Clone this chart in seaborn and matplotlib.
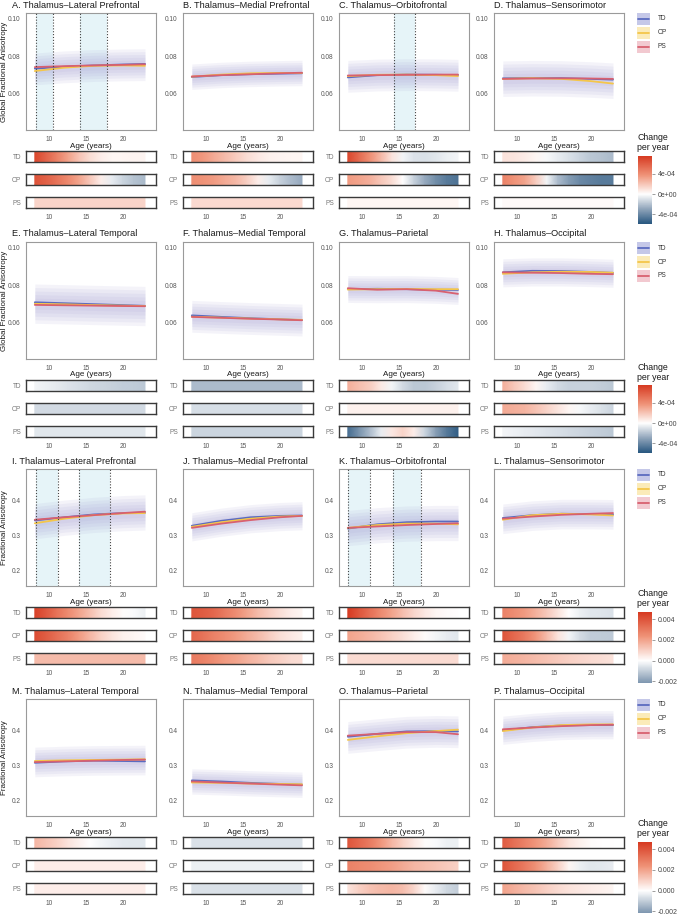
import numpy as np
import pandas as pd
import matplotlib
matplotlib.use('Agg')
import matplotlib.pyplot as plt
import seaborn as sns
from matplotlib.colors import LinearSegmentedColormap, Normalize
from matplotlib.patches import Rectangle

# --- data ---------------------------------------------------------------
REGIONS = ["Lateral Prefrontal", "Medial Prefrontal", "Orbitofrontal", "Sensorimotor",
           "Lateral Temporal", "Medial Temporal", "Parietal", "Occipital"]
LETTERS = list("ABCDEFGHIJKLMNOP")
GROUPS = ["TD", "OP", "PS"]

FIT_AGES = [8, 12, 16, 20, 23]
STRIP_AGES = [8, 9.5, 11, 12.5, 14, 15.5, 17, 18.5, 20, 21.5, 23]

# fitted trajectories [TD, OP, PS] at FIT_AGES
fit_A = [[.0735, .0745, .0752, .0757, .0760], [.0722, .0740, .0750, .0752, .0750], [.0743, .0748, .0752, .0755, .0758]]
fit_B = [[.0690, .0700, .0705, .0708, .0710], [.0692, .0703, .0710, .0712, .0712], [.0693, .0700, .0705, .0710, .0713]]
fit_C = [[.0688, .0700, .0703, .0702, .0700], [.0695, .0702, .0703, .0700, .0695], [.0698, .0700, .0702, .0703, .0703]]
fit_D = [[.0683, .0685, .0684, .0680, .0676], [.0680, .0684, .0680, .0668, .0655], [.0680, .0682, .0683, .0682, .0680]]
fit_E = [[.0710, .0705, .0700, .0695, .0691], [.0702, .0699, .0695, .0692, .0690], [.0696, .0694, .0692, .0690, .0689]]
fit_F = [[.0640, .0632, .0625, .0619, .0615], [.0633, .0628, .0623, .0619, .0616], [.0632, .0627, .0622, .0618, .0614]]
fit_G = [[.0780, .0782, .0780, .0777, .0776], [.0778, .0780, .0781, .0780, .0780], [.0785, .0777, .0780, .0772, .0755]]
fit_H = [[.0870, .0878, .0877, .0872, .0867], [.0862, .0870, .0873, .0872, .0868], [.0870, .0868, .0866, .0862, .0860]]
fit_I = [[.343, .352, .360, .364, .365], [.335, .348, .358, .363, .364], [.345, .352, .358, .364, .368]]
fit_J = [[.328, .342, .352, .356, .357], [.325, .338, .348, .354, .356], [.322, .334, .344, .352, .356]]
fit_K = [[.320, .332, .338, .340, .340], [.322, .330, .334, .334, .332], [.322, .326, .330, .333, .335]]
fit_L = [[.350, .358, .362, .361, .360], [.345, .358, .362, .360, .357], [.348, .354, .359, .362, .364]]
fit_M = [[.308, .312, .314, .313, .312], [.313, .315, .316, .317, .318], [.310, .312, .314, .316, .317]]
fit_N = [[.258, .255, .251, .248, .246], [.252, .251, .249, .248, .247], [.255, .252, .249, .246, .244]]
fit_O = [[.382, .390, .397, .398, .397], [.373, .383, .392, .398, .402], [.385, .390, .395, .395, .389]]
fit_P = [[.400, .409, .414, .415, .415], [.398, .408, .415, .417, .417], [.403, .408, .412, .415, .416]]

# approximate half-height of the point cloud per panel
cloud_gfa = [0.0085, 0.0068, 0.0085, 0.0095, 0.0105, 0.0085, 0.0072, 0.0075]
cloud_fa = [0.050, 0.040, 0.050, 0.042, 0.042, 0.036, 0.045, 0.040]

# change per year [TD, OP, PS] at STRIP_AGES (x1e-4 for rows 1-2, x1e-3 for rows 3-4)
strip_A = [[7.0, 5.8, 4.6, 3.3, 2.1, 1.2, 0.6, 0.3, 0.3, 0.4, 0.4],
           [6.5, 5.9, 5.1, 4.2, 3.2, 2.0, 0.6, -0.6, -1.4, -2.0, -2.3],
           [1.5] * 11]
strip_B = [[4.0, 3.6, 3.0, 2.4, 1.8, 1.2, 0.8, 0.5, 0.4, 0.3, 0.3],
           [4.0, 3.8, 3.5, 3.0, 2.5, 1.7, 0.6, -0.6, -1.5, -2.2, -2.8],
           [1.3] * 11]
strip_C = [[7.0, 5.5, 4.0, 2.5, 1.0, -0.3, -0.9, -1.0, -0.8, -0.5, -0.3],
           [3.5, 3.2, 2.8, 2.0, 1.2, 0.0, -1.5, -2.8, -3.8, -4.5, -4.8],
           [0.3] * 11]
strip_D = [[1.0, 0.9, 0.7, 0.3, -0.2, -0.6, -1.0, -1.4, -1.8, -2.0, -2.2],
           [4.5, 3.8, 3.2, 1.8, -0.3, -2.2, -3.3, -4.0, -4.3, -4.5, -4.5],
           [0.2] * 11]
strip_E = [[-0.3, -0.5, -0.7, -0.9, -1.1, -1.25, -1.4, -1.5, -1.6, -1.7, -1.8],
           [-1.2] * 11,
           [-0.8] * 11]
strip_F = [[-2.2] * 11, [-1.1] * 11, [-1.4] * 11]
strip_G = [[2.8, 2.3, 1.8, 0.8, -0.3, -1.2, -1.8, -1.8, -1.5, -1.1, -0.8],
           [0.5] * 11,
           [-5.0, -3.6, -2.2, -0.6, 0.8, 1.5, 0.6, -1.4, -3.2, -4.6, -5.6]]
strip_H = [[2.8, 2.0, 1.2, 0.3, -0.6, -1.2, -1.5, -1.5, -1.5, -1.6, -1.8],
           [3.0, 2.8, 2.6, 2.1, 1.5, 0.9, 0.3, -0.2, -0.6, -1.0, -1.4],
           [-0.3, -0.45, -0.6, -0.75, -0.9, -1.05, -1.2, -1.35, -1.5, -1.65, -1.8]]
strip_I = [[4.5, 3.9, 3.2, 2.6, 2.0, 1.4, 0.8, 0.4, 0.1, -0.1, -0.3],
           [4.2, 3.8, 3.3, 2.8, 2.2, 1.6, 1.0, 0.6, 0.3, 0.2, 0.1],
           [1.5] * 11]
strip_J = [[4.0, 3.8, 3.5, 3.0, 2.5, 2.0, 1.5, 1.1, 0.7, 0.4, 0.2],
           [3.5, 3.2, 2.8, 2.5, 2.2, 1.8, 1.5, 1.1, 0.7, 0.5, 0.3],
           [3.0, 2.8, 2.5, 2.2, 2.0, 1.7, 1.5, 1.2, 1.0, 0.8, 0.7]]
strip_K = [[4.8, 4.0, 3.3, 2.6, 2.0, 1.4, 0.9, 0.5, 0.2, 0.1, 0.0],
           [2.0, 1.8, 1.6, 1.3, 1.0, 0.7, 0.4, 0.1, -0.2, -0.4, -0.5],
           [0.8] * 11]
strip_L = [[2.8, 2.5, 2.2, 1.7, 1.2, 0.6, 0.0, -0.3, -0.5, -0.55, -0.6],
           [4.0, 3.5, 3.0, 2.3, 1.5, 0.6, -0.2, -0.7, -1.0, -1.05, -1.1],
           [1.8, 1.7, 1.6, 1.45, 1.3, 1.15, 1.0, 0.9, 0.8, 0.7, 0.6]]
strip_M = [[1.6, 1.3, 1.0, 0.6, 0.3, 0.0, -0.2, -0.35, -0.45, -0.5, -0.5],
           [0.4] * 11,
           [0.4] * 11]
strip_N = [[-0.6] * 11, [-0.3] * 11, [-0.6] * 11]
strip_O = [[4.0, 3.5, 3.0, 2.3, 1.6, 1.0, 0.5, 0.1, -0.1, -0.3, -0.3],
           [2.8, 2.65, 2.5, 2.3, 2.1, 1.85, 1.6, 1.45, 1.3, 1.15, 1.0],
           [0.6, 1.0, 1.3, 1.5, 1.6, 1.4, 0.9, 0.1, -0.4, -0.8, -1.0]]
strip_P = [[3.8, 3.3, 2.8, 2.3, 1.8, 1.2, 0.6, 0.3, 0.1, 0.0, 0.0],
           [4.0, 3.5, 3.0, 2.4, 1.7, 1.0, 0.2, -0.3, -0.5, -0.45, -0.4],
           [2.0, 1.75, 1.5, 1.25, 1.0, 0.8, 0.6, 0.5, 0.4, 0.3, 0.2]]

FITS = [fit_A, fit_B, fit_C, fit_D, fit_E, fit_F, fit_G, fit_H,
        fit_I, fit_J, fit_K, fit_L, fit_M, fit_N, fit_O, fit_P]
STRIPS = [strip_A, strip_B, strip_C, strip_D, strip_E, strip_F, strip_G, strip_H,
          strip_I, strip_J, strip_K, strip_L, strip_M, strip_N, strip_O, strip_P]

# significant age windows (shaded, dotted borders)
WINDOWS = {"A": [(8.1, 10.5), (14.2, 17.8)], "C": [(14.3, 17.1)],
           "I": [(8.1, 11.2), (14.0, 18.3)], "K": [(8.0, 11.0), (14.1, 17.9)]}

# --- styling ----------------------------------------------------------------
LINE_COLORS = {"TD": "#5b6bc0", "OP": "#f4c64a", "PS": "#d8606f"}
KEY_FILLS = {"TD": "#c5c8e8", "OP": "#fbebb9", "PS": "#f2c9d0"}
CMAP = LinearSegmentedColormap.from_list(
    "chg", [(0.0, "#1f4a72"), (0.12, "#2d5b83"), (0.3, "#8ea3b9"), (0.5, "#ffffff"),
            (0.75, "#f09479"), (1.0, "#d73b22")])

FIG_W, FIG_H = 685, 916
COL_LEFT = [26, 183, 339, 494]
PANEL_W, PANEL_H = 130, 117
BLOCK_TOP = [13, 242, 469, 699]
STRIP_OFF = [138, 161, 184]
STRIP_H = 11
XLIM = (6.8, 24.5)

TICK_FS = 4.7
LAB_FS = 5.8
TITLE_FS = 6.6
INK = "#1a1a1a"

sns.set_style("white")
plt.rcParams['font.family'] = ['Liberation Sans', 'DejaVu Sans']

fig = plt.figure(figsize=(FIG_W / 100, FIG_H / 100), dpi=100)


def px_axes(x, y, w, h):
    return fig.add_axes([x / FIG_W, 1 - (y + h) / FIG_H, w / FIG_W, h / FIG_H])


def px_text(x, y, s, **kw):
    fig.text(x / FIG_W, 1 - y / FIG_H, s, **kw)


for idx in range(16):
    row, col = divmod(idx, 4)
    letter = LETTERS[idx]
    top = BLOCK_TOP[row]
    left = COL_LEFT[col]
    gfa = row < 2
    fits = FITS[idx]

    # ---- scatter / trajectory panel
    ax = px_axes(left, top, PANEL_W, PANEL_H)
    for a, b in WINDOWS.get(letter, []):
        ax.axvspan(a, b, color="#e6f4f8", zorder=0, lw=0)
        for v in (a, b):
            ax.axvline(v, color="#444444", ls=(0, (1, 1.6)), lw=0.8, zorder=4)

    # point cloud shown as a soft density band round the group trajectories
    center = np.mean(np.array(fits), axis=0)
    spread = cloud_gfa[idx % 8] if gfa else cloud_fa[idx % 8]
    for k in (1.0, 0.82, 0.64, 0.46, 0.28):
        ax.fill_between(FIT_AGES, center - k * spread, center + k * spread,
                        color="#aca8d8", alpha=0.13, lw=0, zorder=1)

    df = pd.DataFrame({
        "age": FIT_AGES * 3,
        "value": fits[0] + fits[1] + fits[2],
        "group": [g for g in GROUPS for _ in FIT_AGES],
    })
    sns.lineplot(data=df, x="age", y="value", hue="group", hue_order=GROUPS,
                 palette=LINE_COLORS, legend=False, lw=1.3, ax=ax, zorder=3)

    ax.set_xlim(*XLIM)
    if gfa:
        ax.set_ylim(0.0407, 0.1032)
        ax.set_yticks([0.06, 0.08, 0.10])
        ax.set_yticklabels(["0.06", "0.08", "0.10"])
    else:
        ax.set_ylim(0.157, 0.489)
        ax.set_yticks([0.2, 0.3, 0.4])
        ax.set_yticklabels(["0.2", "0.3", "0.4"])
    ax.set_xticks([10, 15, 20])
    ax.tick_params(length=2.2, width=0.6, color="#8a8a8a", labelsize=TICK_FS,
                   labelcolor="#555555", pad=1.8)
    for s in ax.spines.values():
        s.set_color("#9a9a9a")
        s.set_linewidth(0.8)
    ax.set_xlabel("")
    ax.set_ylabel("")
    px_text(left + PANEL_W / 2, top + 133, "Age (years)", ha="center", va="center",
            fontsize=LAB_FS, color=INK)
    title_x = 12 if col == 0 else left
    px_text(title_x, top - 8, f"{letter}. Thalamus\u2013{REGIONS[idx % 8]}",
            ha="left", va="center", fontsize=TITLE_FS, color=INK)
    if col == 0:
        px_text(5, top + PANEL_H / 2,
                "Global Fractional Anisotropy" if gfa else "Fractional Anisotropy",
                rotation=90, ha="center", va="center", fontsize=LAB_FS, color=INK)

    # ---- change-per-year strips
    scale = 1e-4 if gfa else 1e-3
    vmax = 7.55e-4 if gfa else 4.7e-3
    norm = Normalize(-vmax, vmax)
    for j, g in enumerate(GROUPS):
        sax = px_axes(left, top + STRIP_OFF[j], PANEL_W, STRIP_H)
        vals = np.array(STRIPS[idx][j]) * scale
        X = np.array([STRIP_AGES, STRIP_AGES])
        Y = np.array([[0] * len(STRIP_AGES), [1] * len(STRIP_AGES)])
        sax.pcolormesh(X, Y, np.array([vals, vals]), shading="gouraud", cmap=CMAP, norm=norm)
        sax.set_xlim(*XLIM)
        sax.set_ylim(0, 1)
        sax.set_xticks([10, 15, 20])
        sax.set_yticks([0.5])
        sax.set_yticklabels([g])
        sax.tick_params(axis="y", length=1.5, width=0.5, color="#8a8a8a", labelsize=TICK_FS,
                        labelcolor="#777777", pad=1.8)
        sax.tick_params(axis="x", length=2.2, width=0.6, color="#555555", labelsize=TICK_FS,
                        labelcolor="#555555", pad=1.8, labelbottom=(j == 2))
        for s in sax.spines.values():
            s.set_color("#3a3a3a")
            s.set_linewidth(1.0)

    # ---- legend + colour bar at the end of each block
    if col == 3:
        for j, g in enumerate(GROUPS):
            cy = top + 6 + 14 * j
            fig.add_artist(Rectangle((637 / FIG_W, 1 - (cy + 6) / FIG_H), 13 / FIG_W, 12 / FIG_H,
                                     transform=fig.transFigure, color=KEY_FILLS[g], lw=0))
            fig.add_artist(plt.Line2D([638 / FIG_W, 649 / FIG_W], [1 - cy / FIG_H] * 2,
                                      transform=fig.transFigure, color=LINE_COLORS[g], lw=1.3))
            px_text(658, cy, g, ha="left", va="center", fontsize=TICK_FS, color="#333333")

        px_text(637, top + 125, "Change", ha="left", va="center", fontsize=6.3, color=INK)
        px_text(637, top + 135, "per year", ha="left", va="center", fontsize=6.3, color=INK)
        lo, hi = (-5.9e-4, 7.55e-4) if gfa else (-2.15e-3, 4.7e-3)
        cax = px_axes(638, top + 143, 14, 68 if gfa else 71)
        grid = np.linspace(lo, hi, 200)[:, None]
        cax.imshow(grid, extent=[0, 1, lo, hi], origin="lower", aspect="auto", cmap=CMAP, norm=norm)
        cax.set_xlim(0, 1)
        cax.set_ylim(lo, hi)
        cax.set_xticks([])
        if gfa:
            ticks = [-4e-4, 0, 4e-4]
            labels = ["-4e-04", "0e+00", "4e-04"]
        else:
            ticks = [-0.002, 0, 0.002, 0.004]
            labels = ["-0.002", "0.000", "0.002", "0.004"]
        cax.set_yticks(ticks)
        cax.set_yticklabels(labels)
        cax.yaxis.tick_right()
        cax.tick_params(axis="y", length=2, width=0.5, color="#777777", labelsize=5.0,
                        labelcolor="#444444", pad=2)
        for s in cax.spines.values():
            s.set_visible(False)

fig.savefig("out.png", dpi=100)
